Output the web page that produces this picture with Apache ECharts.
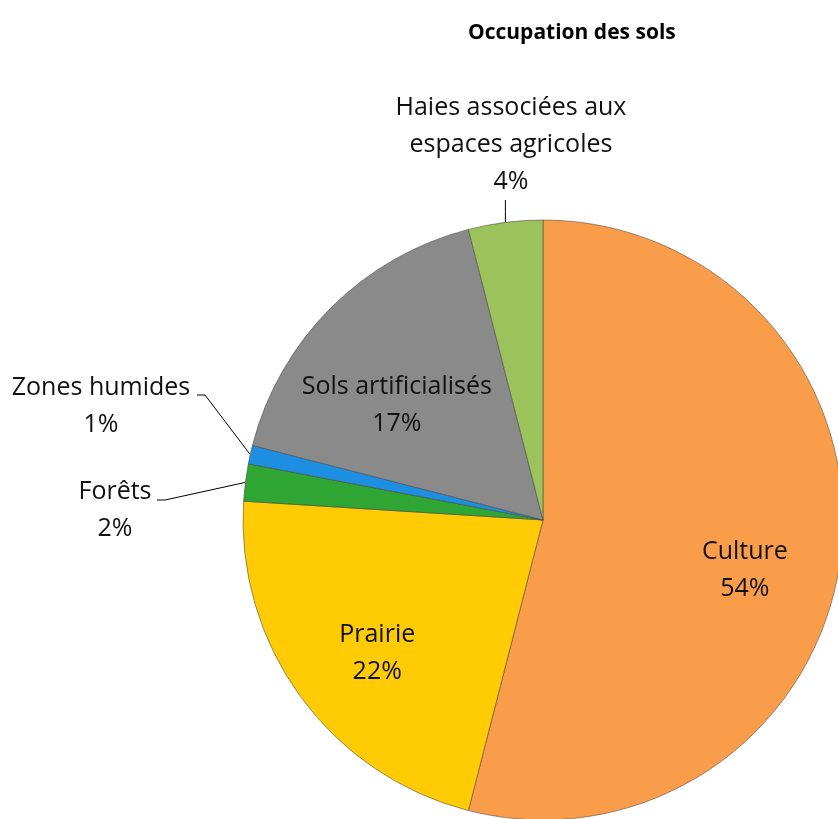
<!DOCTYPE html>
<html>
<head>
<meta charset="utf-8">
<title>Occupation des sols</title>
<script src="https://cdn.jsdelivr.net/npm/echarts@6/dist/echarts.min.js"></script>
<style>
  html, body { margin: 0; padding: 0; background: #ffffff; }
  #chart { width: 838px; height: 819px; }
</style>
</head>
<body>
<div id="chart"></div>
<script>
// Land-use shares (%), clockwise from 12 o'clock
const categories = [
  'Culture',
  'Prairie',
  'Forêts',
  'Zones humides',
  'Sols artificialisés',
  'Haies associées aux\nespaces agricoles'
];
const shares = [54, 22, 2, 1, 17, 4];
const sliceColors = ['#FA9D4B', '#FFCB05', '#2FA533', '#1E8EE3', '#8A8A8A', '#9CC35B'];

const chartTitle = 'Occupation des sols';

// Pie geometry (pixels)
const CX = 543, CY = 520, R = 300;

// Where each label sits. Inside labels: polar offset from the pie centre.
// Outside labels: text centre plus the bend of the leader line.
const labelPlacement = [
  { inside: true, angle: 103.9, radius: 208 },
  { inside: true, angle: 231.1, radius: 213 },
  { inside: false, text: [115, 510], bend: [165, 500], end: [157, 500] },
  { inside: false, text: [101, 406], bend: [205, 395], end: [197, 395] },
  { inside: true, angle: 308.2, radius: 186 },
  { inside: false, text: [511, 145], vertical: 200 }
];

const total = shares.reduce((a, b) => a + b, 0);
const midAngles = [];
(function () {
  let acc = 0;
  shares.forEach(v => { midAngles.push((acc + v / 2) / total * 360); acc += v; });
})();

function polar(angleDeg, r) {
  const a = angleDeg * Math.PI / 180;
  return [CX + r * Math.sin(a), CY - r * Math.cos(a)];
}

const chart = echarts.init(document.getElementById('chart'), null, { renderer: 'canvas' });

const seriesData = categories.map((name, i) => ({
  name: name,
  value: shares[i],
  itemStyle: { color: sliceColors[i] },
  labelLine: { show: !labelPlacement[i].inside }
}));

chart.setOption({
  backgroundColor: '#ffffff',
  animation: false,
  title: {
    text: chartTitle,
    left: 463,
    top: 18,
    textStyle: {
      fontFamily: 'Open Sans',
      fontWeight: 'bold',
      fontSize: 21,
      color: '#000000'
    }
  },
  series: [{
    type: 'pie',
    center: [CX, CY],
    radius: [0, R],
    startAngle: 90,
    clockwise: true,
    avoidLabelOverlap: false,
    itemStyle: {
      borderColor: 'rgba(70,70,70,0.55)',
      borderWidth: 1
    },
    label: {
      show: true,
      position: 'outside',
      formatter: '{b}\n{c}%',
      fontFamily: 'Open Sans',
      fontSize: 25,
      lineHeight: 37,
      color: '#111111',
      align: 'center'
    },
    labelLine: {
      show: true,
      lineStyle: { color: '#000000', width: 1 }
    },
    labelLayout: function (params) {
      const i = params.dataIndex;
      const p = labelPlacement[i];
      if (p.inside) {
        const pt = polar(p.angle, p.radius);
        return { x: pt[0], y: pt[1], align: 'center', verticalAlign: 'middle' };
      }
      const edge = polar(midAngles[i], R);
      let pts;
      if (p.vertical !== undefined) {
        pts = [[edge[0], edge[1]], [edge[0], (edge[1] + p.vertical) / 2], [edge[0], p.vertical]];
      } else {
        pts = [[edge[0], edge[1]], p.bend, p.end];
      }
      return {
        x: p.text[0], y: p.text[1],
        align: 'center', verticalAlign: 'middle',
        labelLinePoints: pts
      };
    },
    data: seriesData
  }]
});
</script>
</body>
</html>
